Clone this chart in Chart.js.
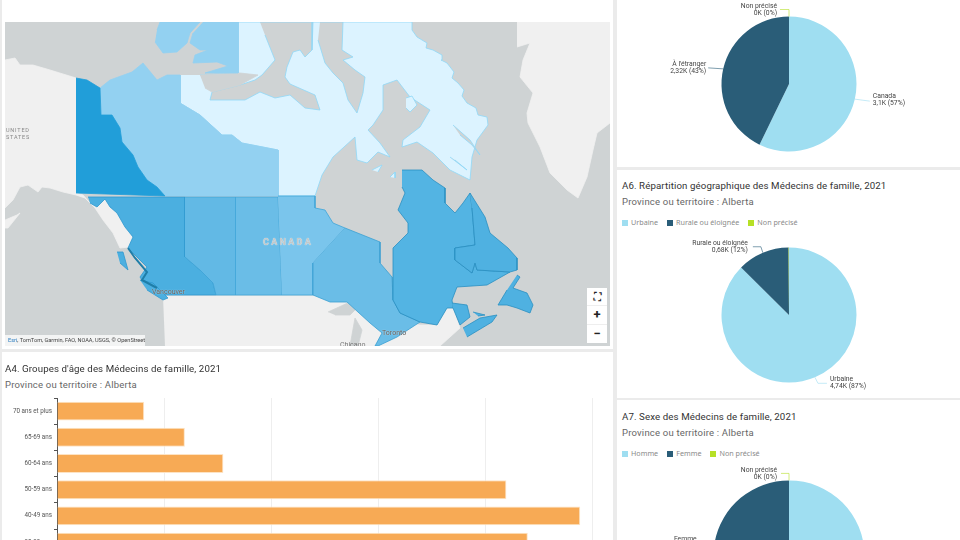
<!DOCTYPE html>
<html lang="fr">
<head>
<meta charset="utf-8">
<title>Médecins de famille, 2021</title>
<script src="https://cdn.jsdelivr.net/npm/chart.js@4"></script>
<style>
  html, body { margin: 0; padding: 0; }
  body { width: 960px; height: 540px; overflow: hidden; position: relative; background: #ebebeb; font-family: Roboto, sans-serif; }
  .panel { position: absolute; background: #fff; overflow: hidden; }
  .panel canvas { position: absolute; }
  .title { position: absolute; font-size: 9.7px; color: #333; white-space: nowrap; line-height: 14px; margin-top: 1px; letter-spacing: .1px; }
  .sub { position: absolute; font-size: 9.5px; color: #666; white-space: nowrap; line-height: 14px; margin-top: 1px; letter-spacing: .2px; }
  .legend { position: absolute; font-family: "Noto Sans", sans-serif; font-size: 7.2px; color: #8a8a8a; white-space: nowrap; display: flex; gap: 9px; line-height: 10px; }
  .legend i { display: inline-block; width: 6px; height: 6px; margin-right: 3px; vertical-align: -0.5px; }
  .maplabel { position: absolute; white-space: nowrap; color: #777; }
  #attrib { position: absolute; left: 5px; top: 335px; width: 140px; height: 11px; background: rgba(255,255,255,.75); font-size: 5.6px; line-height: 11px; color: #444; text-indent: 3px; white-space: nowrap; overflow: hidden; }
  #attrib b { color: #2f7fc1; font-weight: 400; }
  #mapbtns { position: absolute; left: 587px; top: 288px; width: 20px; height: 55px; background: #fff; text-align: center; color: #222; font-weight: 700; font-size: 13px; line-height: 18px; }
  #mapbtns div { height: 18.3px; border-bottom: 1px solid #eee; box-sizing: border-box; }
</style>
</head>
<body>
<div class="panel" style="left:2px;top:0;width:611px;height:349px"></div>
<div class="panel" style="left:2px;top:352px;width:611px;height:188px"></div>
<div class="panel" id="p5" style="left:617px;top:0;width:343px;height:167px"></div>
<div class="panel" id="p6" style="left:617px;top:170px;width:343px;height:228px">
  <div class="title" style="left:5px;top:8px">A6. Répartition géographique des Médecins de famille, 2021</div>
  <div class="sub" style="left:5px;top:24px">Province ou territoire : Alberta</div>
  <div class="legend" id="leg6" style="left:5px;top:47px"></div>
</div>
<div class="panel" id="p7" style="left:617px;top:400px;width:343px;height:140px">
  <div class="title" style="left:5px;top:9px">A7. Sexe des Médecins de famille, 2021</div>
  <div class="sub" style="left:5px;top:25px">Province ou territoire : Alberta</div>
  <div class="legend" id="leg7" style="left:5px;top:48px"></div>
</div>
<canvas id="map" width="605" height="324" style="position:absolute;left:5px;top:22px;background:#cfd3d4"></canvas>
<div class="maplabel" style="left:6px;top:127px;font-size:5.5px;line-height:7px;letter-spacing:.8px;color:#888">UNITED<br>STATES</div>
<div class="maplabel" style="left:263px;top:237px;font-size:9px;font-weight:700;letter-spacing:2.3px;color:#c4c8c9;text-shadow:0 0 1px #fff">CANADA</div>
<div class="maplabel" style="left:152px;top:288px;font-size:7px;color:#555;text-shadow:0 0 1px #fff">Vancouver</div>
<div class="maplabel" style="left:382px;top:329px;font-size:7px;color:#555;text-shadow:0 0 1px #fff">Toronto</div>
<div class="maplabel" style="left:340px;top:341px;font-size:7px;color:#777;height:5px;overflow:hidden">Chicago</div>
<div id="attrib"><b>Esri</b>, TomTom, Garmin, FAO, NOAA, USGS, © OpenStreetMap</div>
<div id="mapbtns"><div style="font-size:10px">⛶</div><div>+</div><div style="border:0">−</div></div>
<div class="title" style="left:5px;top:361px">A4. Groupes d'âge des Médecins de famille, 2021</div>
<div class="sub" style="left:5px;top:377px">Province ou territoire : Alberta</div>
<canvas id="bars" width="613" height="170" style="position:absolute;left:0;top:391px"></canvas>
<script>
// A4 groupes d'age
const ageLabels = ['70 ans et plus', '65-69 ans', '60-64 ans', '50-59 ans', '40-49 ans', '30-39 ans'];
const ageValues = [163, 239, 311, 840, 978, 880];

// A5 lieu de formation
const a5Labels = ['Canada', "À l'étranger", 'Non précisé'];
const a5Values = [3100, 2320, 0];

// A6 repartition geographique
const a6Labels = ['Urbaine', 'Rurale ou éloignée', 'Non précisé'];
const a6Values = [4740, 676, 5];

// A7 sexe
const a7Labels = ['Homme', 'Femme', 'Non précisé'];
const a7Values = [3030, 2390, 0];

const pieColors = ['#9fdef1', '#2a5d78', '#b6e026'];

// carte : contours
const alaska = [[5,60],[15,58],[20,65],[33,65],[50,70],[76,78],[76,193],[83,195],[90,203],[97,207],[105,199],[110,207],[117,213],[125,227],[133,237],[129,247],[120,248],[113,233],[103,220],[95,208],[85,198],[76,195],[63,192],[50,188],[42,187],[38,192],[28,185],[20,187],[13,200],[5,208]];
const aleutian = [[5,220],[17,215],[20,213],[8,228],[5,228]];
const lower48 = [[163,296],[316,296],[340,302],[350,302],[380,320],[420,325],[437,325],[447,308],[453,308],[460,328],[440,346],[165,346]];
const greenland = [[517,22],[610,22],[610,123],[597,133],[593,150],[587,177],[578,198],[567,190],[550,173],[540,147],[528,123],[527,113],[533,93],[520,77],[523,60],[530,43],[517,47]];
const lakeSuperior = [[328,312],[350,302],[357,308],[350,315],[335,315]];
const lakeMichigan = [[350,346],[355,318],[362,330],[358,346]];
const nunavut = [[180,75],[180,103],[200,115],[222,135],[232,135],[242,143],[278,150],[278,196],[315,196],[322,175],[333,157],[355,137],[357,160],[367,163],[378,152],[390,157],[380,143],[368,130],[373,125],[383,110],[383,85],[397,80],[410,97],[430,110],[420,127],[403,140],[402,147],[417,142],[433,153],[450,170],[470,180],[472,157],[477,140],[488,125],[487,117],[478,115],[476,108],[467,103],[462,96],[464,90],[458,83],[452,78],[454,72],[447,63],[441,60],[442,55],[433,50],[426,48],[427,43],[417,37],[412,30],[412,22],[238,22],[238,73],[200,75]];
const arcticChannels = [[260,22],[313,22],[312,50],[305,57],[300,50],[293,52],[287,67],[285,77],[290,84],[315,95],[320,110],[305,108],[290,95],[275,98],[260,92],[245,100],[225,100],[210,100],[212,92],[240,85],[255,80],[262,75],[275,60],[265,35]];
const coronation = [[200,75],[240,73],[258,75],[240,85],[212,92],[205,88]];
const baffinWest = [[320,22],[343,22],[342,50],[353,57],[343,60],[355,70],[365,77],[363,93],[357,113],[348,100],[343,83],[333,73],[325,63],[318,40]];
const cumberland = [[453,125],[470,140],[480,155],[472,145],[460,135]];
const frobisher = [[450,157],[467,170],[455,160]];
const foxeIsland = [[406,98],[412,96],[417,105],[410,112],[406,108]];
const hudsonIsle1 = [[372,170],[382,165],[378,172]];
const hudsonIsle2 = [[390,177],[395,172],[395,178]];
const nwt = [[100,88],[110,80],[132,72],[143,63],[157,80],[167,75],[180,75],[180,103],[200,115],[222,135],[232,135],[242,143],[278,150],[278,196],[165,196],[157,187],[147,180],[138,167],[133,155],[122,142],[120,128],[112,115],[101,115]];
const banks = [[157,30],[160,22],[200,22],[190,33],[187,43],[177,52],[163,53],[155,42]];
const victoria = [[203,22],[238,22],[238,73],[205,73],[228,66],[217,62],[193,63],[195,55],[208,50],[200,50],[190,43],[193,33]];
const yukon = [[76,78],[87,80],[100,88],[101,115],[112,115],[120,128],[122,142],[133,155],[138,167],[147,180],[157,187],[165,196],[76,193]];
const bc = [[88,197],[185,197],[185,257],[200,270],[213,283],[216,295],[163,295],[157,290],[143,282],[140,277],[147,267],[133,253],[128,248],[133,237],[125,227],[117,213],[110,207],[105,199],[97,207],[90,203]];
const haidaGwaii = [[117,252],[123,252],[128,270],[120,263]];
const vancouverIsl = [[140,280],[153,283],[168,298],[163,300],[147,290]];
const bcCoast = [[128,248],[135,258],[147,272],[142,280],[157,288]];
const alberta = [[185,197],[236,197],[236,295],[216,295],[213,283],[200,270],[185,257]];
const sask = [[236,197],[278,197],[282,295],[236,295]];
const manitoba = [[278,196],[315,196],[315,208],[325,210],[333,223],[345,228],[313,263],[313,295],[282,295]];
const ontario = [[345,228],[380,242],[380,263],[392,277],[393,300],[400,313],[420,322],[397,337],[378,346],[375,346],[382,333],[370,323],[347,302],[330,302],[313,295],[313,263]];
const quebec = [[402,170],[422,170],[433,180],[445,188],[445,203],[455,213],[463,203],[470,193],[472,208],[475,245],[455,248],[455,260],[472,273],[475,263],[477,270],[510,272],[487,285],[457,287],[452,300],[453,308],[447,308],[437,325],[420,322],[400,313],[393,300],[393,248],[408,233],[408,223],[398,210],[405,193],[402,187]];
const labrador = [[470,193],[485,217],[490,233],[508,248],[517,258],[517,270],[510,272],[477,270],[475,263],[472,273],[455,260],[455,248],[475,245],[472,208]];
const newfoundland = [[517,275],[520,277],[513,288],[527,293],[533,305],[530,313],[517,308],[507,305],[498,305],[507,290]];
const newBrunswick = [[452,303],[467,305],[470,317],[460,325],[453,308]];
const novaScotia = [[463,328],[480,318],[497,315],[492,322],[467,337]];
const pei = [[473,312],[485,315],[478,316]];

const land = '#f0f0f0', sea = '#cfd3d4', pale = '#dcf3ff';
// ordre de dessin : du fond vers le dessus
const mapLayers = [
  [alaska, land, land], [aleutian, land, land], [lower48, land, land], [greenland, land, land],
  [lakeSuperior, sea, sea], [lakeMichigan, sea, sea],
  [nunavut, pale, '#8fd8f8'], [arcticChannels, sea, '#8fd8f8'], [coronation, sea, sea], [baffinWest, sea, '#8fd8f8'],
  [cumberland, sea, '#8fd8f8'], [frobisher, sea, '#8fd8f8'], [foxeIsland, pale, '#8fd8f8'], [hudsonIsle1, pale, '#8fd8f8'], [hudsonIsle2, pale, '#8fd8f8'],
  [nwt, '#93d1f1', '#93d1f1'], [banks, '#93d1f1', '#93d1f1'], [victoria, '#93d1f1', '#93d1f1'],
  [yukon, '#219ed9', '#219ed9'], [bc, '#4bafe0', '#2f98cf'], [haidaGwaii, '#4bafe0', '#2f98cf'], [vancouverIsl, '#4bafe0', '#2f98cf'],
  [alberta, '#62b9e5', '#3fa5d8'], [sask, '#6abde7', '#3fa5d8'], [manitoba, '#7ac5ec', '#3fa5d8'], [ontario, '#6abde7', '#3a9fd2'],
  [quebec, '#53b4e3', '#2a8fc2'], [labrador, '#4fb1e1', '#2a8fc2'], [newfoundland, '#4fb1e1', '#2a8fc2'],
  [newBrunswick, '#4fb1e1', '#2a8fc2'], [novaScotia, '#4fb1e1', '#2a8fc2'], [pei, '#4fb1e1', '#2a8fc2']
];

const mapDatasets = mapLayers.map((l, i) => ({
  data: l[0].map(p => ({ x: p[0], y: p[1] })),
  backgroundColor: l[1],
  borderColor: l[2],
  borderWidth: 0.8,
  fill: 'shape',
  pointRadius: 0,
  tension: 0,
  order: mapLayers.length - i
}));
mapDatasets.push({
  data: bcCoast.map(p => ({ x: p[0], y: p[1] })),
  borderColor: '#1f7ea8',
  borderWidth: 2,
  fill: false,
  pointRadius: 0,
  order: 0
});

new Chart(document.getElementById('map'), {
  type: 'line',
  data: { datasets: mapDatasets },
  options: {
    responsive: false,
    animation: false,
    layout: { padding: 0 },
    plugins: { legend: { display: false }, tooltip: { enabled: false } },
    scales: {
      x: { type: 'linear', min: 5, max: 610, display: false },
      y: { type: 'linear', min: 22, max: 346, reverse: true, display: false }
    }
  }
});

new Chart(document.getElementById('bars'), {
  type: 'bar',
  data: {
    labels: ageLabels,
    datasets: [{
      data: ageValues,
      backgroundColor: '#f7aa55',
      borderColor: '#fde3c4',
      borderWidth: 1,
      barPercentage: 0.72,
      categoryPercentage: 1
    }]
  },
  options: {
    indexAxis: 'y',
    responsive: false,
    animation: false,
    layout: { padding: { top: 7, right: 21 } },
    plugins: { legend: { display: false }, tooltip: { enabled: false } },
    scales: {
      x: {
        min: 0, max: 1000,
        ticks: { stepSize: 200, display: false },
        grid: { color: '#eeeeee', drawTicks: false },
        border: { display: false }
      },
      y: {
        afterFit: s => { s.width = 57; },
        ticks: { font: { family: 'Roboto', size: 6.3 }, color: '#555', padding: 2 },
        grid: { drawOnChartArea: false, tickLength: 3, tickColor: '#555' },
        border: { color: '#555' }
      }
    }
  }
});

// etiquettes des secteurs, decalages en pixels depuis le bord du secteur
const pieLabelPlugin = {
  id: 'pieLabels',
  afterDraw(chart) {
    const ctx = chart.ctx;
    const ds = chart.data.datasets[0];
    const total = ds.data.reduce((a, b) => a + b, 0);
    chart.getDatasetMeta(0).data.forEach((arc, i) => {
      const lab = ds.labelItems[i];
      if (!lab) return;
      const mid = (arc.startAngle + arc.endAngle) / 2;
      const px = arc.x + arc.outerRadius * Math.cos(mid);
      const py = arc.y + arc.outerRadius * Math.sin(mid);
      ctx.save();
      ctx.globalAlpha = 0.6;
      ctx.strokeStyle = ds.backgroundColor[i];
      ctx.lineWidth = 1;
      ctx.beginPath();
      ctx.moveTo(px, py);
      lab.path.forEach(p => ctx.lineTo(px + p[0], py + p[1]));
      ctx.stroke();
      ctx.globalAlpha = 1;
      const v = ds.data[i];
      const num = String(Math.round(v / 10) / 100).replace('.', ',');
      ctx.font = '6.8px Roboto';
      ctx.fillStyle = '#444';
      ctx.textAlign = lab.text[0] < 0 ? 'right' : 'left';
      ctx.textBaseline = 'middle';
      ctx.fillText(chart.data.labels[i], px + lab.text[0], py + lab.text[1]);
      ctx.fillText(num + 'K (' + Math.round(v / total * 100) + '%)', px + lab.text[0], py + lab.text[1] + 7);
      ctx.restore();
    });
  }
};

function makePie(parent, top, height, radius, labels, values, items) {
  const canvas = document.createElement('canvas');
  canvas.width = 344;
  canvas.height = height;
  canvas.style.left = '0';
  canvas.style.top = top + 'px';
  document.getElementById(parent).appendChild(canvas);
  const pad = height / 2 - radius;
  new Chart(canvas, {
    type: 'pie',
    data: { labels: labels, datasets: [{ data: values, backgroundColor: pieColors, borderWidth: 0, labelItems: items }] },
    options: {
      responsive: false,
      animation: false,
      layout: { padding: { top: pad, bottom: pad } },
      plugins: { legend: { display: false }, tooltip: { enabled: false } }
    },
    plugins: [pieLabelPlugin]
  });
}

function makeLegend(id, labels) {
  document.getElementById(id).innerHTML = labels.map((l, i) =>
    '<span><i style="background:' + pieColors[i] + '"></i>' + l + '</span>').join('');
}

makePie('p5', 0, 168, 67.5, a5Labels, a5Values, [
  { path: [[15, 2]], text: [18, -2.7] },
  { path: [[-15, -1]], text: [-17, -5] },
  { path: [[0, -7], [-9, -7]], text: [-12, -10.5] }
]);
makePie('p6', 62, 166, 67.5, a6Labels, a6Values, [
  { path: [[3, 6], [12, 6]], text: [15, 2] },
  { path: [[-2, -6], [-10, -6]], text: [-15, -9.7] },
  null
]);
makePie('p7', 60, 192, 75.6, a7Labels, a7Values, [
  null,
  { path: [[-15, 0]], text: [-18, -2.6] },
  { path: [[0, -7], [-8, -7]], text: [-12, -10.4] }
]);
makeLegend('leg6', a6Labels);
makeLegend('leg7', a7Labels);
</script>
</body>
</html>
